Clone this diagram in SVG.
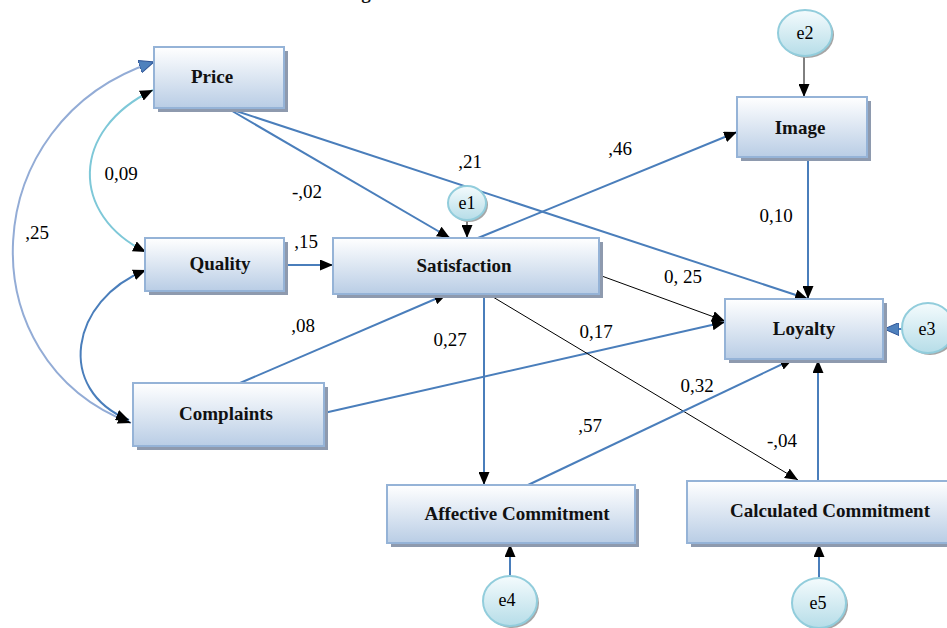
<svg xmlns="http://www.w3.org/2000/svg" width="947" height="628" viewBox="0 0 947 628">
<defs>
<linearGradient id="boxg" x1="0" y1="0" x2="0" y2="1">
<stop offset="0" stop-color="#ffffff"/>
<stop offset="1" stop-color="#b9cde5"/>
</linearGradient>
<linearGradient id="cirg" x1="0" y1="0" x2="0" y2="1">
<stop offset="0" stop-color="#f4fbfd"/>
<stop offset="1" stop-color="#b6dde8"/>
</linearGradient>
<marker id="ab" viewBox="0 0 13 11" refX="13" refY="5.5" markerWidth="13" markerHeight="11" markerUnits="userSpaceOnUse" orient="auto-start-reverse">
<path d="M0,0 L13,5.5 L0,11 Z" fill="#000"/>
</marker>
<marker id="au" viewBox="0 0 15 13" refX="15" refY="6.5" markerWidth="15" markerHeight="13" markerUnits="userSpaceOnUse" orient="auto-start-reverse">
<path d="M0,0 L15,6.5 L0,13 Z" fill="#4f81bd" stroke="#2f5597" stroke-width="1"/>
</marker>
<style>
.box{fill:url(#boxg);stroke:#95b3d7;stroke-width:2}
.sh{fill:#8e9aae}
.cir{fill:url(#cirg);stroke:#92cddc;stroke-width:2}
.csh{fill:#a6a6a6}
.nl{font-family:"Liberation Serif",serif;font-weight:bold;font-size:19px;text-anchor:middle;fill:#111}
.el{font-family:"Liberation Serif",serif;font-size:19px;text-anchor:middle;fill:#000}
.cl{font-family:"Liberation Serif",serif;font-size:18px;text-anchor:middle;fill:#000}
.b{fill:none;stroke:#4a7ebb;stroke-width:2}
.k{fill:none;stroke:#000;stroke-width:1}
</style>
</defs>
<rect width="947" height="628" fill="#fff"/>
<text x="366" y="-1" class="nl">g</text>
<g id="connectors">
<path class="b" d="M227,108 L450,238" marker-end="url(#ab)"/>
<path class="b" d="M227,108 L808,299" marker-end="url(#ab)"/>
<path class="b" d="M284,265 L333,265" marker-end="url(#ab)"/>
<path class="b" d="M240,383 L447,294" marker-end="url(#ab)"/>
<path class="b" d="M324,413 L725,322" marker-end="url(#ab)"/>
<path class="b" d="M478,238 L737,132" marker-end="url(#ab)"/>
<path class="k" d="M599,275 L725,321" marker-end="url(#ab)"/>
<path class="b" d="M484,294 L484,485" marker-end="url(#ab)"/>
<path class="k" d="M488,294 L798,480" marker-end="url(#ab)"/>
<path class="b" d="M528,485 L793,359" marker-end="url(#ab)"/>
<path class="b" d="M818,481 L818,360" marker-end="url(#ab)"/>
<path class="b" d="M808,157 L808,299" marker-end="url(#ab)"/>
<path class="k" d="M804,56 L804,97" marker-end="url(#ab)"/>
<path class="k" d="M467,220 L467,238" marker-end="url(#ab)"/>
<path class="b" d="M903,329 L884,329" marker-end="url(#au)"/>
<path class="b" d="M510,576 L510,544" marker-end="url(#ab)"/>
<path class="b" d="M819,578 L819,544" marker-end="url(#ab)"/>
<path d="M153,90 C70,130 70,215 146,252" fill="none" stroke="#7ec8d8" stroke-width="2" marker-start="url(#ab)" marker-end="url(#ab)"/>
<path d="M154,62 C-25,120 -35,360 131,423" fill="none" stroke="#93acd6" stroke-width="2" marker-start="url(#au)" marker-end="url(#ab)"/>
<path d="M146,270 C70,300 55,390 129,420" fill="none" stroke="#4a7ebb" stroke-width="2" marker-start="url(#ab)" marker-end="url(#ab)"/>
<text class="el" x="121" y="180">0,09</text>
<text class="el" x="307" y="198">-,02</text>
<text class="el" x="37" y="239">,25</text>
<text class="el" x="306" y="248">,15</text>
<text class="el" x="303" y="332">,08</text>
<text class="el" x="470" y="168">,21</text>
<text class="el" x="620" y="155">,46</text>
<text class="el" x="683" y="283">0, 25</text>
<text class="el" x="596" y="338">0,17</text>
<text class="el" x="450" y="346">0,27</text>
<text class="el" x="776" y="222">0,10</text>
<text class="el" x="697" y="392">0,32</text>
<text class="el" x="590" y="432">,57</text>
<text class="el" x="782" y="447">-,04</text>
</g>
<g id="price">
<rect class="sh" x="158" y="51" width="130" height="61"/>
<rect class="box" x="154" y="47" width="130" height="61"/>
<text class="nl" x="212" y="83">Price</text>
</g>
<g id="quality">
<rect class="sh" x="149" y="242" width="139" height="53"/>
<rect class="box" x="145" y="238" width="139" height="53"/>
<text class="nl" x="220" y="270">Quality</text>
</g>
<g id="complaints">
<rect class="sh" x="137" y="387" width="191" height="63"/>
<rect class="box" x="133" y="383" width="191" height="63"/>
<text class="nl" x="226" y="420">Complaints</text>
</g>
<g id="satisfaction">
<rect class="sh" x="337" y="242" width="266" height="56"/>
<rect class="box" x="333" y="238" width="266" height="56"/>
<text class="nl" x="464" y="272">Satisfaction</text>
</g>
<g id="image">
<rect class="sh" x="741" y="101" width="130" height="60"/>
<rect class="box" x="737" y="97" width="130" height="60"/>
<text class="nl" x="800" y="134">Image</text>
</g>
<g id="loyalty">
<rect class="sh" x="729" y="303" width="158" height="60"/>
<rect class="box" x="725" y="299" width="158" height="60"/>
<text class="nl" x="804" y="335">Loyalty</text>
</g>
<g id="affective">
<rect class="sh" x="391" y="489" width="248" height="58"/>
<rect class="box" x="387" y="485" width="248" height="58"/>
<text class="nl" x="517" y="520">Affective Commitment</text>
</g>
<g id="calculated">
<rect class="sh" x="691" y="485" width="262" height="62"/>
<rect class="box" x="687" y="481" width="262" height="62"/>
<text class="nl" x="830" y="517">Calculated Commitment</text>
</g>
<g id="e1">
<ellipse class="csh" cx="469" cy="205" rx="19" ry="17"/>
<ellipse class="cir" cx="467" cy="203" rx="19" ry="17"/>
<text class="cl" x="467" y="209">e1</text>
</g>
<g id="e2">
<ellipse class="csh" cx="807" cy="35" rx="27" ry="23"/>
<ellipse class="cir" cx="805" cy="33" rx="27" ry="23"/>
<text class="cl" x="805" y="39">e2</text>
</g>
<g id="e3">
<ellipse class="csh" cx="930" cy="330" rx="26" ry="25"/>
<ellipse class="cir" cx="928" cy="328" rx="26" ry="25"/>
<text class="cl" x="927" y="335">e3</text>
</g>
<g id="e4">
<ellipse class="csh" cx="512" cy="603" rx="27" ry="25"/>
<ellipse class="cir" cx="510" cy="601" rx="27" ry="25"/>
<text class="cl" x="507" y="606">e4</text>
</g>
<g id="e5">
<ellipse class="csh" cx="821" cy="605" rx="27" ry="25"/>
<ellipse class="cir" cx="819" cy="603" rx="27" ry="25"/>
<text class="cl" x="818" y="609">e5</text>
</g>
</svg>
